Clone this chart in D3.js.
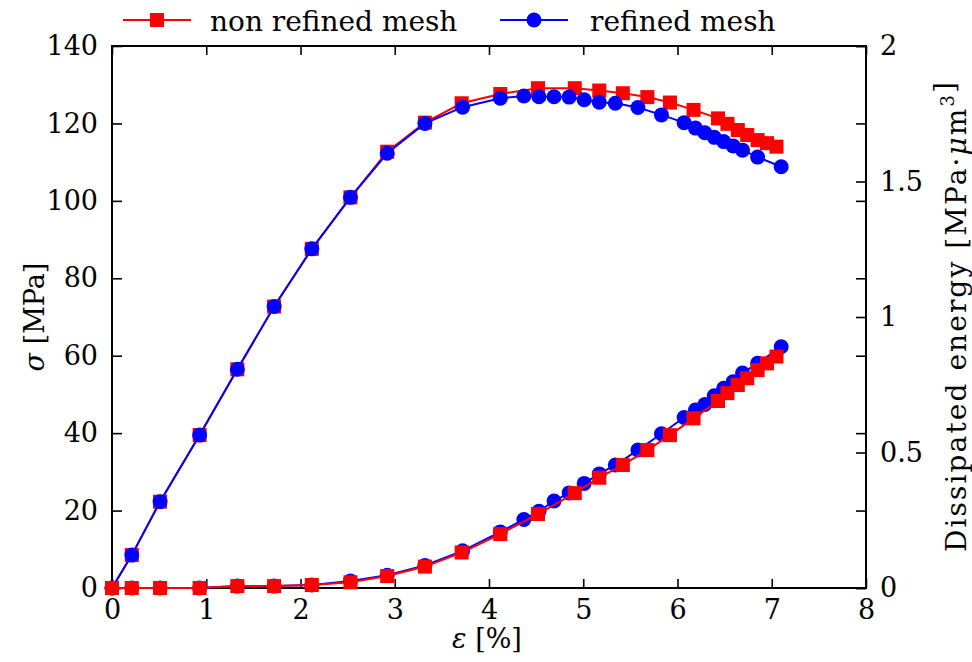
<!DOCTYPE html>
<html>
<head>
<meta charset="utf-8">
<script src="https://cdn.jsdelivr.net/npm/d3@7"></script>
<style>
  body { margin: 0; background: #fff; }
  svg text { font-family: "DejaVu Serif", "Liberation Serif", "Noto Serif", "Times New Roman", serif !important; fill: #000; }
</style>
</head>
<body>
<div id="chart"></div>
<script>
// chart size
var chart_width = 972;
var chart_height = 662;
var margin = {left: 112, right: 106, top: 46, bottom: 74};

// non refined mesh (red squares)
var coarseStrain = [0, 0.21, 0.51, 0.93, 1.33, 1.72, 2.12, 2.53, 2.92, 3.32, 3.71, 4.12, 4.52, 4.91,
                    5.17, 5.42, 5.68, 5.92, 6.17, 6.43, 6.53, 6.64, 6.74, 6.85, 6.95, 7.05];
var coarseStress = [0, 8.5, 22.3, 39.5, 56.5, 72.7, 87.6, 100.9, 112.7, 120.2, 125.2, 127.6, 129.1, 129.1,
                    128.5, 127.8, 126.8, 125.4, 123.5, 121.3, 119.9, 118.3, 117.0, 115.7, 114.9, 114.0];
var coarseEnergy = [0, 0, 0, 0, 0.007, 0.007, 0.011, 0.021, 0.044, 0.079, 0.131, 0.199, 0.273, 0.35,
                    0.407, 0.454, 0.509, 0.564, 0.626, 0.69, 0.719, 0.749, 0.774, 0.804, 0.829, 0.854];

// refined mesh (blue circles)
var fineStrain = [0, 0.21, 0.51, 0.93, 1.33, 1.72, 2.12, 2.53, 2.92, 3.32, 3.72, 4.12, 4.37, 4.53, 4.69,
                  4.85, 5.01, 5.17, 5.34, 5.58, 5.83, 6.07, 6.19, 6.29, 6.39, 6.49, 6.59, 6.69, 6.85, 7.1];
var fineStress = [0, 8.5, 22.3, 39.5, 56.5, 72.7, 87.6, 100.9, 112.3, 120.0, 124.2, 126.5, 127.1, 126.9, 126.9,
                  126.8, 126.1, 125.5, 125.2, 124.1, 122.2, 120.2, 118.8, 117.6, 116.4, 115.3, 114.2, 113.1, 111.3, 108.8];
var fineEnergy = [0, 0, 0, 0, 0.007, 0.007, 0.011, 0.026, 0.047, 0.083, 0.137, 0.207, 0.253, 0.283, 0.321,
                  0.351, 0.386, 0.421, 0.454, 0.509, 0.569, 0.629, 0.657, 0.677, 0.709, 0.737, 0.761, 0.793, 0.829, 0.89];

var xTicks = [0, 1, 2, 3, 4, 5, 6, 7, 8];
var yTicks = [0, 20, 40, 60, 80, 100, 120, 140];
var y2Ticks = [0, 0.5, 1, 1.5, 2];

var RED = '#ff0000', BLUE = '#0000ff';

var svg = d3.select('#chart').append('svg')
            .attr('width', chart_width)
            .attr('height', chart_height);

var x = d3.scaleLinear().domain([0, 8]).range([margin.left, chart_width - margin.right]);
var y = d3.scaleLinear().domain([0, 140]).range([chart_height - margin.bottom, margin.top]);
var y2 = d3.scaleLinear().domain([0, 2]).range([chart_height - margin.bottom, margin.top]);

var x0 = x(0), x1 = x(8), yb = y(0), yt = y(140);

// axes (ticks pointing inside)
var gx = svg.append('g').attr('transform', 'translate(0,' + yb + ')')
    .call(d3.axisBottom(x).tickValues(xTicks).tickFormat(d3.format('d')).tickSizeInner(-9).tickSizeOuter(0).tickPadding(12));
var gxt = svg.append('g').attr('transform', 'translate(0,' + yt + ')')
    .call(d3.axisTop(x).tickValues(xTicks).tickFormat('').tickSizeInner(-9).tickSizeOuter(0));
var gy = svg.append('g').attr('transform', 'translate(' + x0 + ',0)')
    .call(d3.axisLeft(y).tickValues(yTicks).tickSizeInner(-10).tickSizeOuter(0).tickPadding(14));
var gyr = svg.append('g').attr('transform', 'translate(' + x1 + ',0)')
    .call(d3.axisRight(y).tickValues(yTicks).tickFormat('').tickSizeInner(-10).tickSizeOuter(0));
var gy2 = svg.append('g').attr('transform', 'translate(' + x1 + ',0)')
    .call(d3.axisRight(y2).tickValues(y2Ticks).tickFormat(d3.format('')).tickSizeInner(-10).tickSizeOuter(0).tickPadding(14));

[gx, gxt, gy, gyr, gy2].forEach(function(g){
    g.attr('font-family', null);
    g.select('.domain').remove();
    g.selectAll('line').attr('stroke', '#000').attr('stroke-width', 1.6);
    g.selectAll('text').style('font-size', '27px');
});
gy2.selectAll('text').attr('text-anchor', 'start');

// frame
svg.append('rect')
   .attr('x', x0).attr('y', yt)
   .attr('width', x1 - x0).attr('height', yb - yt)
   .attr('fill', 'none').attr('stroke', '#000').attr('stroke-width', 2);

function zip(xs, ys){ return xs.map(function(v, i){ return [v, ys[i]]; }); }

function drawLine(data, sy, color){
    svg.append('path')
       .datum(data)
       .attr('fill', 'none')
       .attr('stroke', color)
       .attr('stroke-width', 2)
       .attr('d', d3.line().x(function(d){ return x(d[0]); }).y(function(d){ return sy(d[1]); }));
}
function drawSquares(data, sy){
    svg.append('g').selectAll('rect').data(data).enter().append('rect')
       .attr('x', function(d){ return x(d[0]) - 7; })
       .attr('y', function(d){ return sy(d[1]) - 7; })
       .attr('width', 14).attr('height', 14)
       .attr('fill', RED);
}
function drawCircles(data, sy){
    svg.append('g').selectAll('circle').data(data).enter().append('circle')
       .attr('cx', function(d){ return x(d[0]); })
       .attr('cy', function(d){ return sy(d[1]); })
       .attr('r', 7.5)
       .attr('fill', BLUE);
}

var cS = zip(coarseStrain, coarseStress), fS = zip(fineStrain, fineStress);
var cE = zip(coarseStrain, coarseEnergy), fE = zip(fineStrain, fineEnergy);

// stress curves: red first, blue on top
drawLine(cS, y, RED); drawSquares(cS, y);
drawLine(fS, y, BLUE); drawCircles(fS, y);
// energy curves: blue first, red on top
drawLine(fE, y2, BLUE); drawCircles(fE, y2);
drawLine(cE, y2, RED); drawSquares(cE, y2);

// axis titles
svg.append('text')
   .attr('x', (x0 + x1) / 2 - 2).attr('y', 648)
   .attr('text-anchor', 'middle').style('font-size', '27px')
   .html('<tspan font-style="italic">ε</tspan> [%]');
svg.append('text')
   .attr('transform', 'translate(44,317) rotate(-90)')
   .attr('text-anchor', 'middle').style('font-size', '27px')
   .html('<tspan font-style="italic">σ</tspan> [MPa]');
svg.append('text')
   .attr('transform', 'translate(966,317) rotate(-90)')
   .attr('text-anchor', 'middle').style('font-size', '28px')
   .attr('textLength', 470).attr('lengthAdjust', 'spacing')
   .html('Dissipated energy [MPa·<tspan font-style="italic">μ</tspan>m<tspan dy="-12" font-size="18px">3</tspan>]');

// legend
var legend = [
    {label: 'non refined mesh', color: RED, marker: 'square', x: 123, tx: 210},
    {label: 'refined mesh', color: BLUE, marker: 'circle', x: 500, tx: 590}
];
legend.forEach(function(d){
    svg.append('line')
       .attr('x1', d.x).attr('x2', d.x + 68).attr('y1', 20).attr('y2', 20)
       .attr('stroke', d.color).attr('stroke-width', 2);
    if (d.marker === 'square') {
        svg.append('rect').attr('x', d.x + 34 - 7).attr('y', 13).attr('width', 14).attr('height', 14).attr('fill', d.color);
    } else {
        svg.append('circle').attr('cx', d.x + 34).attr('cy', 20).attr('r', 7.5).attr('fill', d.color);
    }
    svg.append('text').attr('x', d.tx).attr('y', 31).style('font-size', '28px').text(d.label);
});
</script>
</body>
</html>
